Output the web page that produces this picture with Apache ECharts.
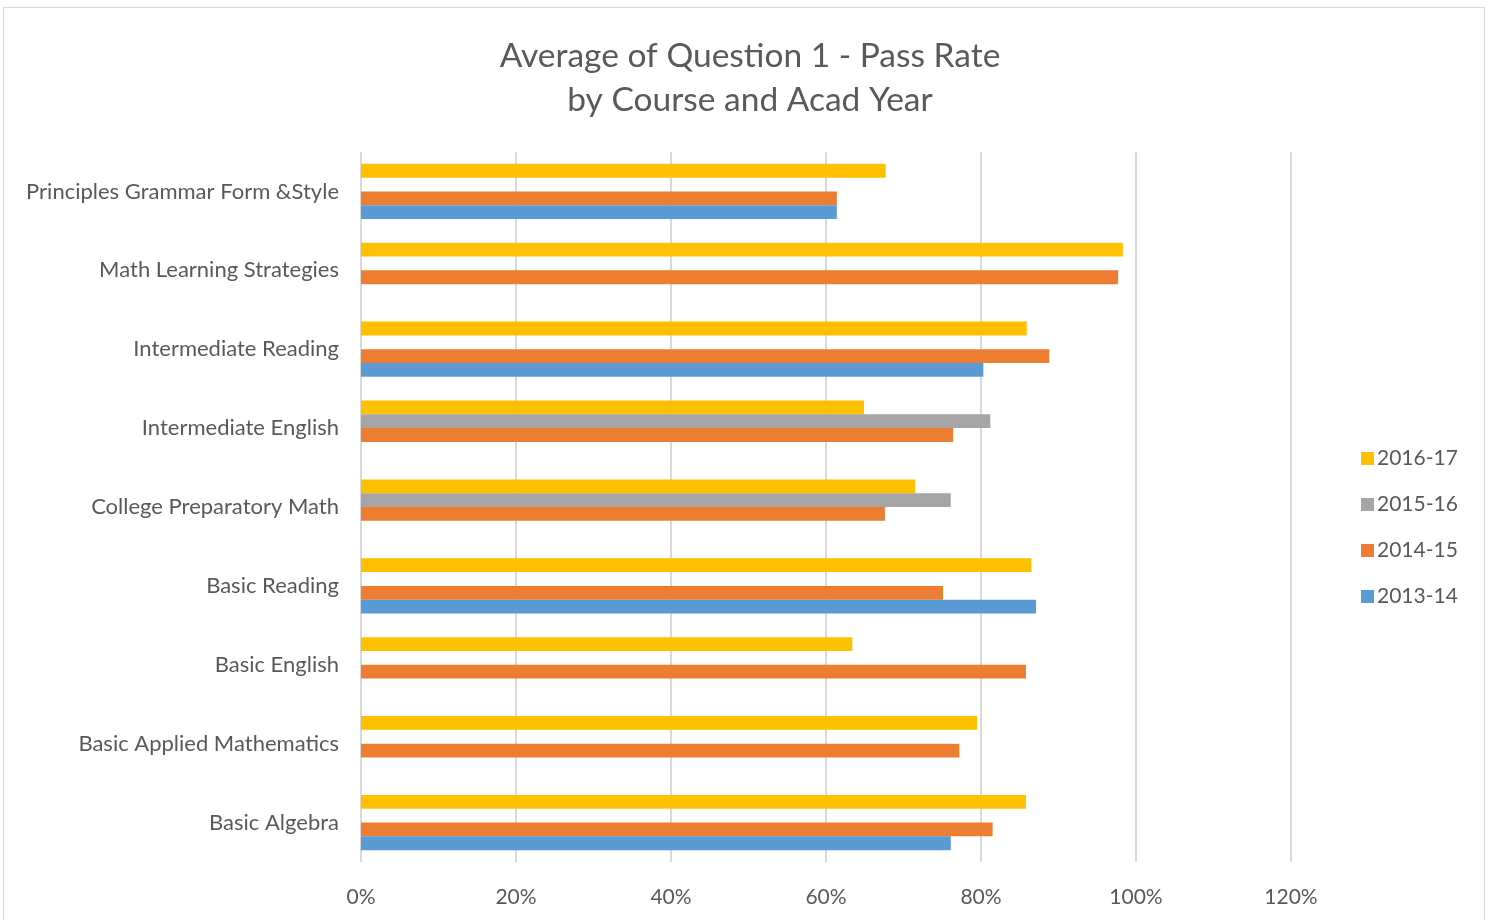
<!DOCTYPE html>
<html>
<head>
<meta charset="utf-8">
<script src="https://cdn.jsdelivr.net/npm/echarts@6/dist/echarts.min.js"></script>
<style>
html, body { margin: 0; padding: 0; background: #fff; }
#frame { position: absolute; left: 3px; top: 7px; width: 1482px; height: 920px; border: 1px solid #d9d9d9; box-sizing: border-box; }
#chart { width: 1495px; height: 920px; }
</style>
</head>
<body>
<div id="frame"></div>
<div id="chart"></div>
<script>
// courses, bottom to top like the excel chart
var courses = ['Basic Algebra', 'Basic Applied Mathematics', 'Basic English', 'Basic Reading',
  'College Preparatory Math', 'Intermediate English', 'Intermediate Reading',
  'Math Learning Strategies', 'Principles Grammar Form &Style'];
var years = ['2016-17', '2015-16', '2014-15', '2013-14'];
var rate1617 = [0.858, 0.795, 0.634, 0.865, 0.715, 0.649, 0.859, 0.983, 0.677];
var rate1516 = [null, null, null, null, 0.761, 0.812, null, null, null];
var rate1415 = [0.815, 0.772, 0.858, 0.751, 0.676, 0.764, 0.888, 0.977, 0.614];
var rate1314 = [0.761, null, null, 0.871, null, null, 0.803, null, 0.614];
var xTicks = [0, 0.2, 0.4, 0.6, 0.8, 1.0, 1.2];
var colors = ['#ffc000', '#a5a5a5', '#ed7d31', '#5b9bd5'];

var txt = '#595959';
var font = 'Lato, "Open Sans", sans-serif';
var allRates = [rate1617, rate1516, rate1415, rate1314];

var option = {
  animation: false,
  textStyle: { fontFamily: font },
  title: {
    text: 'Average of Question 1 - Pass Rate\nby Course and Acad Year',
    left: 745, top: 29, textAlign: 'center',
    textStyle: { color: txt, fontSize: 33.5, fontWeight: 'normal', lineHeight: 44, fontFamily: font }
  },
  legend: {
    orient: 'vertical',
    left: 1356, top: 443,
    itemWidth: 13, itemHeight: 13, itemGap: 25,
    data: years,
    icon: 'rect',
    textStyle: { color: txt, fontSize: 21, fontFamily: font, padding: [0, 0, 0, -2] }
  },
  grid: { left: 361, right: 204, top: 152, bottom: 58, containLabel: false },
  xAxis: {
    type: 'value', min: xTicks[0], max: xTicks[xTicks.length - 1], interval: 0.2,
    axisLine: { show: false }, axisTick: { show: false },
    splitLine: { lineStyle: { color: '#d9d9d9', width: 2 } },
    axisLabel: { color: txt, fontSize: 21, margin: 25,
      formatter: function (v) { return Math.round(v * 100) + '%'; } }
  },
  yAxis: {
    type: 'category', data: courses,
    axisLine: { show: false }, axisTick: { show: false },
    axisLabel: { color: txt, fontSize: 22, margin: 22 }
  },
  series: years.map(function (y, i) {
    return {
      name: y, type: 'bar', data: allRates[i],
      barGap: '0%', barCategoryGap: '30%',
      itemStyle: { color: colors[i] }
    };
  })
};

var myChart = echarts.init(document.getElementById('chart'));
myChart.setOption(option);
</script>
</body>
</html>
